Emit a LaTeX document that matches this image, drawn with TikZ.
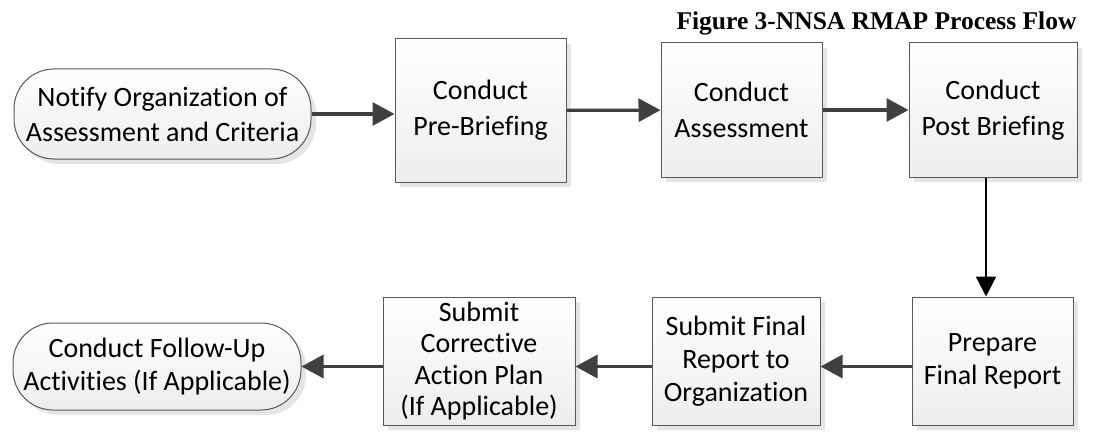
\documentclass[tikz,border=0pt]{standalone}
\usepackage{fontspec}
\setmainfont[Ligatures=NoCommon]{Carlito}
\newfontfamily\capfont{Liberation Serif}
\usetikzlibrary{arrows.meta, shadows, calc}
\newcommand{\boxfont}{\fontsize{28}{36}\selectfont}
\newcommand{\lowfont}{\fontsize{28}{33}\selectfont}
\tikzset{
  box/.style={draw=black!65, line width=1pt, top color=white, bottom color=black!7, drop shadow={shadow xshift=5pt, shadow yshift=-5pt, fill=black!10, opacity=1}, align=center, inner sep=0pt, font=\boxfont},
  stp/.style={box, rectangle},
  lstp/.style={stp, font=\lowfont},
  trm/.style={box, rectangle, rounded corners=40pt},
  flw/.style={-{Triangle[length=22pt, width=23pt]}, line width=3.3pt, draw=black!75},
  dwn/.style={-{Triangle[length=20pt, width=20pt]}, line width=2.2pt, draw=black}
}

\begin{document}
\begin{tikzpicture}[x=1pt, y=-1pt]
		\useasboundingbox (0,0) rectangle (1096,436);
		\node[anchor=base east, font=\capfont\bfseries\fontsize{25.5}{30}\selectfont] (ttl) at (1080,30) {Figure 3-NNSA RMAP Process Flow};
		% top row
		\node[trm, minimum width=297pt, minimum height=90pt, font=\fontsize{28}{35}\selectfont] (ntf) at (162.5,114) {Notify Organization of\\Assessment and Criteria};
		\node[stp, minimum width=171pt, minimum height=143pt] (pre) at (480.5,110.5) {Conduct\\Pre-Briefing};
		\node[stp, minimum width=161pt, minimum height=134pt] (asm) at (741.5,110) {Conduct\\Assessment};
		\node[stp, minimum width=168pt, minimum height=134pt] (pst) at (993,110) {Conduct\\Post Briefing};
		% bottom row
		\node[lstp, minimum width=161pt, minimum height=128pt] (prp) at (992.5,361) {Prepare\\Final Report};
		\node[lstp, minimum width=168pt, minimum height=128pt] (sub) at (736,361) {Submit Final\\Report to\\Organization};
		\node[lstp, minimum width=192pt, minimum height=128pt, font=\fontsize{28}{31.5}\selectfont] (cap) at (479,361) {Submit\\Corrective\\Action Plan\\(If Applicable)};
		\node[trm, minimum width=288pt, minimum height=87pt, font=\lowfont] (fup) at (157,366.5) {Conduct Follow-Up\\Activities (If Applicable)};
		% connectors
		\draw[flw] (ntf.east) -- (ntf.east -| pre.west);
		\draw[flw] (pre) -- (asm);
		\draw[flw] (asm) -- (pst);
		\draw[dwn] ([xshift=-7pt]pst.south) -- ([xshift=-7pt]pst.south |- prp.north);
		\draw[flw] (prp.west |- fup.east) -- (sub.east |- fup.east);
		\draw[flw] (sub.west |- fup.east) -- (cap.east |- fup.east);
		\draw[flw] (cap.west |- fup.east) -- (fup.east);
	\end{tikzpicture}
\end{document}
